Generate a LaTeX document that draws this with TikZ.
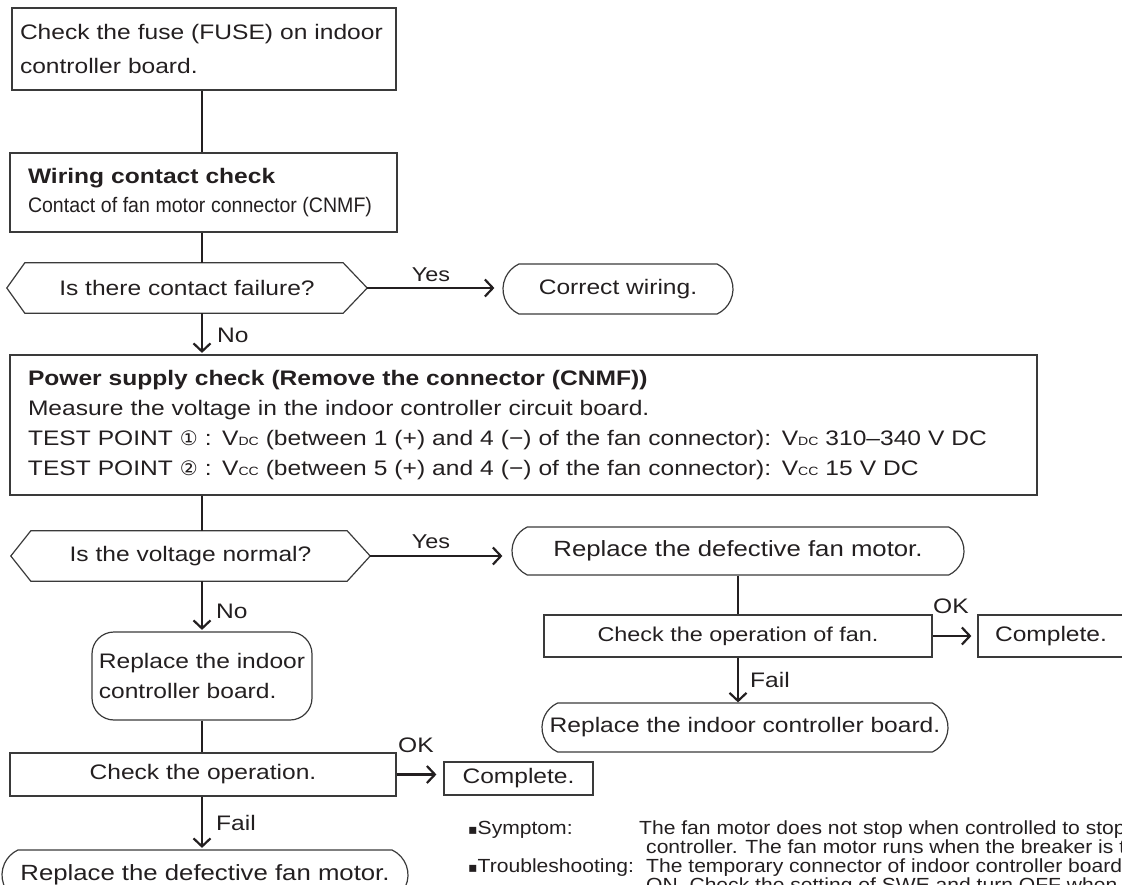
\documentclass[tikz,border=0pt]{standalone}
\usepackage{fontspec}
\setmainfont{Liberation Sans}[FakeStretch=1.17]
\newfontfamily\djv{DejaVu Sans}
\newfontfamily\nf{Liberation Sans}[FakeStretch=1.11]
\usetikzlibrary{arrows.meta,shapes.misc}
\definecolor{ink}{HTML}{231F20}
\definecolor{bdr}{HTML}{3A3A3A}
\newcommand{\fw}[2]{\resizebox{#1pt}{\height}{#2}}
\newcommand{\sbs}[1]{{\fontsize{12pt}{12pt}\selectfont #1}}
\newcommand{\fs}[1]{\fontsize{#1pt}{#1pt}\selectfont}
\begin{document}
\begin{tikzpicture}[x=1pt,y=-1pt,
  every node/.style={text=ink, font=\fs{21}},
  rbox/.style={draw=bdr, line width=1.2pt, inner sep=0pt},
  rnd/.style={rbox, rounded rectangle, rounded rectangle arc length=130},
  hexn/.style={inner sep=0pt},
  hexl/.style={draw=bdr, line width=1.2pt},
  conn/.style={draw=ink, line width=2.2pt},
  arr/.style={conn, -{Straight Barb[length=8pt,width=17pt]}},
  lbl/.style={inner sep=0pt, anchor=base west},
  note/.style={lbl, font=\nf\fs{19}},
]
\path[use as bounding box] (0,0) rectangle (1122,885);
\clip (0,0) rectangle (1122,885);

% boxes
\node[rbox, minimum width=384pt, minimum height=82pt, text width=368pt, inner xsep=8pt, align=left, font=\fontsize{21pt}{34pt}\selectfont] (b1) at (204,49)
  {Check the fuse (FUSE) on indoor\\controller board.};
\node[rbox, minimum width=387pt, minimum height=79pt, text width=351pt, inner xsep=18pt, align=left, font=\fontsize{21pt}{29pt}\selectfont] (b2) at (203.5,192.5)
  {{\bfseries Wiring contact check}\\{\fs{21}\fw{344}{Contact of fan motor connector (CNMF)}}};
\node[hexn, minimum width=360pt, minimum height=50pt] (h1) at (187,288) {Is there contact failure?};
\draw[hexl] (h1.west) -- ([xshift=18pt]h1.north west) -- ([xshift=-24pt]h1.north east) -- (h1.east) -- ([xshift=-24pt]h1.south east) -- ([xshift=18pt]h1.south west) -- cycle;
\node[rnd, minimum width=230pt, minimum height=50pt] (cw) at (618,289) {Correct wiring.\hspace{26pt}};

\node[rbox, minimum width=1027pt, minimum height=140pt, text width=991pt, inner xsep=18pt, align=left, font=\fontsize{21pt}{30pt}\selectfont] (pw) at (523.5,425)
  {{\bfseries Power supply check (Remove the connector (CNMF))}\\
   Measure the voltage in the indoor controller circuit board.\\
   TEST POINT {\djv\fs{20}①} : V\sbs{DC} (between 1 (+) and 4 (−) of the fan connector): V\sbs{DC} 310–340 V DC\\
   TEST POINT {\djv\fs{20}②} : V\sbs{CC} (between 5 (+) and 4 (−) of the fan connector): V\sbs{CC} 15 V DC};

\node[hexn, minimum width=359pt, minimum height=50pt] (h2) at (190.5,556) {Is the voltage normal?};
\draw[hexl] (h2.west) -- ([xshift=20pt]h2.north west) -- ([xshift=-23pt]h2.north east) -- (h2.east) -- ([xshift=-23pt]h2.south east) -- ([xshift=20pt]h2.south west) -- cycle;
\node[rnd, minimum width=452pt, minimum height=48pt, font=\fs{22}] (rdf) at (738,551) {Replace the defective fan motor.};
\node[rbox, minimum width=388pt, minimum height=42pt, font=\fs{20}] (chkf) at (738,636) {Check the operation of fan.};
\node[rbox, minimum width=152pt, minimum height=42pt, text width=118pt, inner xsep=17pt, align=left] (cmp2) at (1054,636) {Complete.};
\node[rnd, minimum width=406pt, minimum height=49pt] (rib2) at (745,727.5) {Replace the indoor controller board.};

\node[rbox, rounded corners=22pt, minimum width=220pt, minimum height=88pt, align=left, font=\fontsize{21pt}{30pt}\selectfont] (rib) at (202,676)
  {Replace the indoor\\controller board.};
\node[rbox, minimum width=386pt, minimum height=43pt] (chk) at (203,774.5) {Check the operation.};
\node[rbox, minimum width=149pt, minimum height=33pt] (cmp1) at (518.5,778.5) {Complete.};
\node[rnd, minimum width=406pt, minimum height=50pt, font=\fs{22}] (rdf2) at (205,875) {Replace the defective fan motor.};

% connectors
\coordinate (cx) at (202,0);
\coordinate (rx) at (738,0);
\draw[conn] (b1.south -| cx) -- (b2.north -| cx);
\draw[conn] (b2.south -| cx) -- (h1.north -| cx);
\draw[arr, shorten >=1.5pt] (h1.south -| cx) -- (pw.north -| cx);
\draw[arr, shorten >=8pt] (h1.east) -- (h1.east -| cw.west);
\draw[conn] (pw.south -| cx) -- (h2.north -| cx);
\draw[arr, shorten >=9pt] (h2.east) -- (h2.east -| rdf.west);
\draw[arr, shorten >=1.5pt] (h2.south -| cx) -- (rib.north -| cx);
\draw[conn] (rib.south -| cx) -- (chk.north -| cx);
\draw[arr, shorten >=7pt] (chk.east) -- (chk.east -| cmp1.west);
\draw[arr, shorten >=1.5pt] (chk.south -| cx) -- (rdf2.north -| cx);
\draw[conn] (rdf.south -| rx) -- (chkf.north -| rx);
\draw[arr, shorten >=6pt] (chkf.east) -- (chkf.east -| cmp2.west);
\draw[arr] (chkf.south -| rx) -- (rib2.north -| rx);

% labels
\node[lbl, anchor=base, font=\fs{20}] (y1) at (431,282) {Yes};
\node[lbl] (n1) at (217,342) {No};
\node[lbl, anchor=base, font=\fs{20}] (y2) at (431,548) {Yes};
\node[lbl] (n2) at (216,618) {No};
\node[lbl] (ok1) at (398,752) {OK};
\node[lbl] (f1) at (216,830) {Fail};
\node[lbl] (ok2) at (933,613) {OK};
\node[lbl] (f2) at (750,687) {Fail};

% notes
\node[note] (s1) at (468,834) {{\djv\fs{14}▪}Symptom:};
\node[note] (s2) at (639,834) {The fan motor does not stop when controlled to stop};
\node[note] (s3) at (646,853) {controller. The fan motor runs when the breaker is turned};
\node[note] (t1) at (468,872) {{\djv\fs{14}▪}Troubleshooting:};
\node[note] (t2) at (646,872) {The temporary connector of indoor controller board};
\node[note] (t3) at (646,891) {ON. Check the setting of SWE and turn OFF when};
\end{tikzpicture}
\end{document}
